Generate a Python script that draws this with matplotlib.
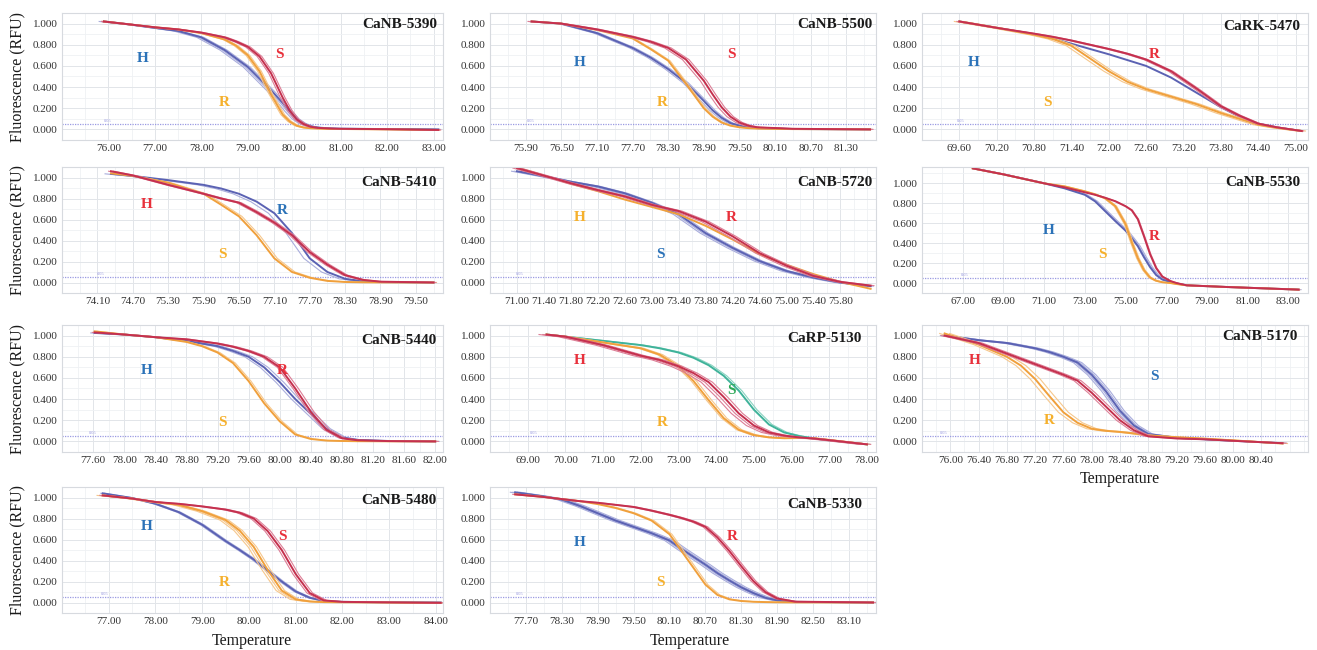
import numpy as np
import matplotlib.pyplot as plt

plt.rcParams['font.family'] = ['Liberation Serif', 'DejaVu Serif']

# ---- melt curve readings (temperature, normalised fluorescence) ----
t5390 = [75.9, 76.5, 77.0, 77.5, 78.0, 78.5, 78.75, 79.0, 79.25, 79.5, 79.75, 79.9, 80.05, 80.2, 80.35, 80.5, 80.75, 81.0, 82.0, 83.1]
h5390 = [1.02, 0.99, 0.96, 0.93, 0.87, 0.75, 0.67, 0.59, 0.48, 0.37, 0.25, 0.17, 0.10, 0.055, 0.03, 0.018, 0.01, 0.007, 0.003, 0.0]
s5390 = [1.02, 0.99, 0.965, 0.945, 0.915, 0.87, 0.83, 0.78, 0.69, 0.53, 0.30, 0.18, 0.095, 0.05, 0.025, 0.015, 0.009, 0.006, 0.002, -0.005]
r5390 = [1.02, 0.99, 0.965, 0.945, 0.91, 0.85, 0.79, 0.70, 0.55, 0.33, 0.14, 0.075, 0.035, 0.018, 0.011, 0.008, 0.005, 0.004, 0.0, -0.005]

t5500 = [76.0, 76.5, 77.1, 77.7, 78.0, 78.3, 78.6, 78.9, 79.05, 79.2, 79.35, 79.5, 79.65, 79.8, 80.4, 81.0, 81.7]
h5500 = [1.02, 1.0, 0.91, 0.77, 0.68, 0.57, 0.44, 0.27, 0.18, 0.11, 0.06, 0.035, 0.02, 0.012, 0.004, 0.002, 0.0]
s5500 = [1.02, 1.0, 0.945, 0.875, 0.83, 0.77, 0.66, 0.46, 0.33, 0.21, 0.12, 0.065, 0.035, 0.02, 0.006, 0.003, 0.0]
r5500 = [1.02, 1.0, 0.94, 0.86, 0.76, 0.65, 0.43, 0.20, 0.12, 0.065, 0.035, 0.02, 0.012, 0.008, 0.003, 0.002, 0.0]

t5470 = [69.6, 70.2, 70.8, 71.1, 71.4, 71.7, 72.0, 72.3, 72.6, 73.0, 73.4, 73.8, 74.1, 74.4, 74.7, 75.1]
h5470 = [1.02, 0.96, 0.90, 0.86, 0.81, 0.76, 0.71, 0.655, 0.60, 0.49, 0.35, 0.21, 0.12, 0.055, 0.02, -0.015]
r5470 = [1.02, 0.96, 0.905, 0.875, 0.84, 0.80, 0.76, 0.715, 0.66, 0.55, 0.39, 0.22, 0.13, 0.055, 0.02, -0.015]
s5470 = [1.02, 0.96, 0.895, 0.855, 0.79, 0.67, 0.55, 0.45, 0.38, 0.31, 0.24, 0.155, 0.10, 0.045, 0.015, -0.015]

t5410 = [74.33, 74.7, 75.3, 75.9, 76.2, 76.5, 76.8, 77.1, 77.4, 77.7, 78.0, 78.3, 78.6, 78.9, 79.8]
h5410 = [1.06, 1.02, 0.93, 0.845, 0.80, 0.76, 0.67, 0.57, 0.45, 0.29, 0.17, 0.07, 0.025, 0.008, 0.0]
r5410 = [1.035, 1.015, 0.975, 0.93, 0.895, 0.845, 0.77, 0.66, 0.47, 0.23, 0.10, 0.035, 0.012, 0.004, 0.0]
s5410 = [1.04, 1.015, 0.95, 0.845, 0.74, 0.63, 0.45, 0.23, 0.10, 0.045, 0.015, 0.005, 0.002, 0.001, 0.0]

t5720 = [71.0, 71.5, 71.8, 72.2, 72.6, 73.0, 73.4, 73.8, 74.2, 74.6, 75.0, 75.4, 75.8, 76.25]
s5720 = [1.06, 1.0, 0.96, 0.915, 0.85, 0.76, 0.65, 0.47, 0.33, 0.205, 0.11, 0.047, 0.0, -0.035]
r5720 = [1.09, 1.0, 0.945, 0.88, 0.82, 0.74, 0.68, 0.58, 0.44, 0.28, 0.16, 0.063, 0.006, -0.03]
h5720 = [1.095, 1.0, 0.94, 0.87, 0.79, 0.72, 0.65, 0.54, 0.41, 0.27, 0.17, 0.08, 0.006, -0.06]

t5530 = [67.5, 69.0, 71.0, 72.0, 73.0, 73.5, 74.0, 74.5, 75.0, 75.3, 75.6, 75.9, 76.2, 76.5, 76.8, 77.2, 77.5, 78.0, 80.0, 83.5]
h5530 = [1.15, 1.09, 1.0, 0.95, 0.885, 0.82, 0.72, 0.62, 0.525, 0.45, 0.37, 0.26, 0.16, 0.08, 0.035, 0.01, -0.005, -0.023, -0.04, -0.066]
s5530 = [1.15, 1.09, 1.0, 0.97, 0.92, 0.89, 0.85, 0.77, 0.59, 0.41, 0.25, 0.13, 0.055, 0.023, 0.008, 0.0, -0.01, -0.023, -0.04, -0.066]
r5530 = [1.15, 1.09, 1.0, 0.96, 0.91, 0.885, 0.855, 0.82, 0.77, 0.73, 0.64, 0.47, 0.29, 0.15, 0.065, 0.02, 0.0, -0.023, -0.04, -0.066]

t5440 = [77.62, 78.0, 78.4, 78.8, 79.0, 79.2, 79.4, 79.6, 79.8, 80.0, 80.2, 80.4, 80.6, 80.8, 81.0, 81.4, 82.0]
s5440 = [1.04, 1.01, 0.985, 0.94, 0.90, 0.84, 0.74, 0.57, 0.36, 0.19, 0.065, 0.023, 0.008, 0.004, 0.002, 0.001, 0.0]
h5440 = [1.025, 1.01, 0.985, 0.95, 0.925, 0.90, 0.855, 0.80, 0.70, 0.56, 0.40, 0.26, 0.12, 0.037, 0.014, 0.004, 0.0]
r5440 = [1.03, 1.01, 0.985, 0.965, 0.945, 0.925, 0.895, 0.855, 0.80, 0.70, 0.50, 0.28, 0.11, 0.03, 0.011, 0.003, 0.0]

t5130 = [69.5, 70.0, 71.0, 72.0, 72.5, 73.0, 73.4, 73.8, 74.2, 74.6, 75.0, 75.4, 75.8, 76.2, 76.6, 77.0, 78.0]
s5130 = [1.01, 0.99, 0.95, 0.91, 0.88, 0.84, 0.79, 0.72, 0.62, 0.48, 0.30, 0.16, 0.085, 0.05, 0.027, 0.01, -0.028]
h5130 = [1.01, 0.99, 0.91, 0.81, 0.77, 0.71, 0.645, 0.56, 0.42, 0.265, 0.15, 0.085, 0.055, 0.038, 0.027, 0.012, -0.028]
r5130 = [1.01, 0.99, 0.935, 0.88, 0.82, 0.71, 0.57, 0.39, 0.22, 0.11, 0.06, 0.038, 0.03, 0.032, 0.03, 0.014, -0.028]

t5170 = [75.92, 76.4, 76.8, 77.0, 77.2, 77.4, 77.6, 77.8, 78.0, 78.2, 78.4, 78.6, 78.8, 79.2, 79.6, 80.0, 80.7]
s5170 = [1.0, 0.957, 0.93, 0.905, 0.88, 0.845, 0.80, 0.745, 0.63, 0.475, 0.29, 0.15, 0.07, 0.034, 0.02, 0.006, -0.017]
h5170 = [1.0, 0.93, 0.83, 0.78, 0.73, 0.68, 0.63, 0.574, 0.46, 0.33, 0.20, 0.105, 0.048, 0.028, 0.02, 0.006, -0.017]
r5170 = [1.02, 0.915, 0.80, 0.716, 0.59, 0.43, 0.275, 0.176, 0.12, 0.10, 0.09, 0.075, 0.057, 0.04, 0.026, 0.01, -0.02]

t5480 = [76.87, 77.5, 78.0, 78.5, 79.0, 79.5, 79.8, 80.1, 80.4, 80.7, 81.0, 81.3, 81.6, 82.0, 83.0, 84.1]
h5480 = [1.04, 0.995, 0.94, 0.86, 0.74, 0.585, 0.50, 0.41, 0.305, 0.20, 0.105, 0.045, 0.015, 0.006, 0.002, 0.0]
r5480 = [1.02, 0.99, 0.957, 0.93, 0.87, 0.785, 0.685, 0.53, 0.31, 0.114, 0.03, 0.01, 0.004, 0.002, 0.0, -0.003]
s5480 = [1.02, 0.99, 0.957, 0.94, 0.915, 0.885, 0.855, 0.80, 0.68, 0.50, 0.27, 0.09, 0.02, 0.006, 0.001, -0.003]

t5330 = [77.52, 78.0, 78.3, 78.6, 78.9, 79.2, 79.5, 79.8, 80.1, 80.3, 80.5, 80.7, 80.9, 81.1, 81.3, 81.5, 81.7, 81.9, 82.2, 83.5]
h5330 = [1.05, 1.01, 0.98, 0.92, 0.85, 0.78, 0.72, 0.66, 0.59, 0.51, 0.435, 0.36, 0.28, 0.21, 0.144, 0.09, 0.045, 0.02, 0.006, 0.0]
s5330 = [1.03, 1.005, 0.985, 0.965, 0.937, 0.90, 0.85, 0.78, 0.65, 0.49, 0.33, 0.17, 0.072, 0.03, 0.014, 0.007, 0.004, 0.002, 0.001, 0.0]
r5330 = [1.03, 1.005, 0.985, 0.965, 0.95, 0.93, 0.91, 0.875, 0.835, 0.805, 0.77, 0.72, 0.62, 0.49, 0.345, 0.205, 0.10, 0.038, 0.008, 0.0]

# colours: (main line, replicate line, label)
BLUE = ('#5b62b3', '#a9addc', '#2b72b8')
RED = ('#c5304e', '#dd7e96', '#e8303b')
ORANGE = ('#f0a03c', '#f6c78c', '#f5b02c')
GREEN = ('#3fb39a', '#8ad3c1', '#2ca856')

W, H = 1317, 650
fig = plt.figure(figsize=(W / 100, H / 100), dpi=100)
fig.patch.set_facecolor('white')

col_px = [(62, 443), (490, 876), (922, 1308)]
row_px = [(13, 140), (167, 293), (325, 452), (487, 613)]

# name, (row, col), t, xlim, ylim, xticks(start, stop, step), curves, title pixel pos
# curve: label, colours, values, replicate shifts (degC), label pixel pos
panels = [
    ('CaNB-5390', (0, 0), t5390, (75.85, 83.2), (-0.027, 1.027), (76.0, 83.0, 1.0),
     [('H', BLUE, h5390, [-0.1, -0.05, 0.05], (143, 58)),
      ('R', ORANGE, r5390, [-0.04, 0.04], (224, 103)),
      ('S', RED, s5390, [-0.05, 0.05], (279, 54))], (437, 25)),
    ('CaNB-5500', (0, 1), t5500, (75.88, 81.8), (-0.028, 1.036), (75.9, 81.3, 0.6),
     [('H', BLUE, h5500, [-0.05, 0.04], (580, 63)),
      ('R', ORANGE, r5500, [0.03], (662, 103)),
      ('S', RED, s5500, [-0.06, 0.05], (731, 54))], (872, 25)),
    ('CaRK-5470', (0, 2), t5470, (69.52, 75.2), (-0.028, 1.036), (69.6, 75.0, 0.6),
     [('H', BLUE, h5470, [], (974, 63)),
      ('S', ORANGE, s5470, [-0.08, 0.06], (1047, 103)),
      ('R', RED, r5470, [-0.04, 0.03], (1154, 54))], (1300, 27)),
    ('CaNB-5410', (1, 0), t5410, (74.05, 79.96), (-0.03, 1.073), (74.1, 79.5, 0.6),
     [('R', BLUE, r5410, [-0.1], (282, 211)),
      ('S', ORANGE, s5410, [0.05], (222, 254)),
      ('H', RED, h5410, [-0.04, 0.04], (147, 205))], (437, 183)),
    ('CaNB-5720', (1, 1), t5720, (70.95, 76.33), (-0.063, 1.10), (71.0, 75.8, 0.4),
     [('S', BLUE, s5720, [-0.08, -0.04, 0.04], (660, 254)),
      ('H', ORANGE, h5720, [], (580, 217)),
      ('R', RED, r5720, [-0.06, 0.05], (731, 217))], (872, 183)),
    ('CaNB-5530', (1, 2), t5530, (66.82, 83.96), (-0.066, 1.164), (67.0, 83.0, 2.0),
     [('H', BLUE, h5530, [0.06, 0.12], (1049, 231)),
      ('S', ORANGE, s5530, [-0.06, 0.06], (1102, 254)),
      ('R', RED, r5530, [0.04], (1154, 236))], (1300, 183)),
    ('CaNB-5440', (2, 0), t5440, (77.52, 82.1), (-0.025, 1.05), (77.6, 82.0, 0.4),
     [('H', BLUE, h5440, [-0.05, 0.05], (147, 370)),
      ('S', ORANGE, s5440, [0.03], (222, 423)),
      ('R', RED, r5440, [-0.03, 0.04], (282, 370))], (437, 340)),
    ('CaRP-5130', (2, 1), t5130, (69.0, 78.24), (-0.034, 1.02), (69.0, 78.0, 1.0),
     [('S', GREEN, s5130, [0.08], (731, 390)),
      ('R', ORANGE, r5130, [-0.06, 0.08], (662, 423)),
      ('H', RED, h5130, [-0.2, -0.1, 0.1], (580, 360))], (862, 339)),
    ('CaNB-5170', (2, 2), t5170, (75.82, 81.06), (-0.037, 1.043), (76.0, 80.4, 0.4),
     [('S', BLUE, s5170, [-0.06, -0.03, 0.03, 0.06], (1154, 377)),
      ('R', ORANGE, r5170, [-0.07, 0.07], (1049, 420)),
      ('H', RED, h5170, [-0.05, 0.05], (975, 360))], (1298, 336)),
    ('CaNB-5480', (3, 0), t5480, (76.79, 84.15), (-0.03, 1.05), (77.0, 84.0, 1.0),
     [('H', BLUE, h5480, [-0.04, 0.04], (147, 527)),
      ('R', ORANGE, r5480, [-0.12, -0.06, 0.06], (224, 582)),
      ('S', RED, s5480, [-0.06, 0.06], (282, 537))], (437, 500)),
    ('CaNB-5330', (3, 1), t5330, (77.5, 83.55), (-0.023, 1.06), (77.7, 83.1, 0.6),
     [('H', BLUE, h5330, [-0.08, -0.04, 0.04, 0.08], (580, 542)),
      ('S', ORANGE, s5330, [0.04], (660, 582)),
      ('R', RED, r5330, [-0.04, 0.04], (732, 537))], (862, 504)),
]


def fx(px):
    return px / W


def fy(py):
    return 1 - py / H


for name, (r, c), t, xlim, ylim, xt, curves, tpos in panels:
    (x0, x1), (y0, y1) = col_px[c], row_px[r]
    ax = fig.add_axes([fx(x0), fy(y1), (x1 - x0) / W, (y1 - y0) / H])
    ax.set_xlim(*xlim)
    ax.set_ylim(*ylim)
    step = xt[2]
    majors = np.round(np.arange(xt[0], xt[1] + step / 2, step), 2)
    ax.set_xticks(majors)
    ax.set_xticklabels(['%.2f' % v for v in majors])
    ax.set_xticks(np.arange(xt[0] - step, xlim[1], step / 2), minor=True)
    ax.set_yticks(np.arange(0, 1.01, 0.2))
    ax.set_yticklabels(['%.3f' % v for v in np.arange(0, 1.01, 0.2)])
    ax.set_yticks(np.arange(-0.1, 1.2, 0.1), minor=True)
    ax.tick_params(which='both', length=0, labelsize=8, pad=3, colors='#333333')
    ax.grid(which='major', color='#e2e5e9', lw=0.7)
    ax.grid(which='minor', color='#eff1f4', lw=0.6)
    ax.set_axisbelow(True)
    for sp in ax.spines.values():
        sp.set_color('#d7dadf')
        sp.set_linewidth(0.8)

    # threshold
    ax.axhline(0.05, color='#9a9ae2', lw=0.9, ls=(0, (1, 1)))
    ax.text(xlim[0] + (xlim[1] - xlim[0]) * 0.006, 0.058, '0.05', fontsize=3.2,
            color='#9a9ae2', va='bottom')

    tt = np.array(t)
    for lab, col, vals, shifts, lpos in curves:
        for s in shifts:
            ax.plot(tt + s, vals, color=col[1], lw=0.8, solid_joinstyle='round')
        ax.plot(tt, vals, color=col[0], lw=1.4, solid_joinstyle='round')
        fig.text(fx(lpos[0]), fy(lpos[1]), lab, color=col[2], fontsize=11,
                 fontweight='bold', ha='center', va='center')

    fig.text(fx(tpos[0]), fy(tpos[1]), name, fontsize=11, fontweight='bold',
             ha='right', va='center', color='#1a1a1a')

for r in range(4):
    y0, y1 = row_px[r]
    fig.text(fx(17), fy((y0 + y1) / 2), 'Fluorescence (RFU)', rotation=90,
             fontsize=11.5, ha='center', va='center', color='#1a1a1a')

for px, py in [(1120, 479), (252, 641), (690, 641)]:
    fig.text(fx(px), fy(py), 'Temperature', fontsize=11.5, ha='center',
             va='center', color='#1a1a1a')

fig.savefig('out.png', dpi=100)
